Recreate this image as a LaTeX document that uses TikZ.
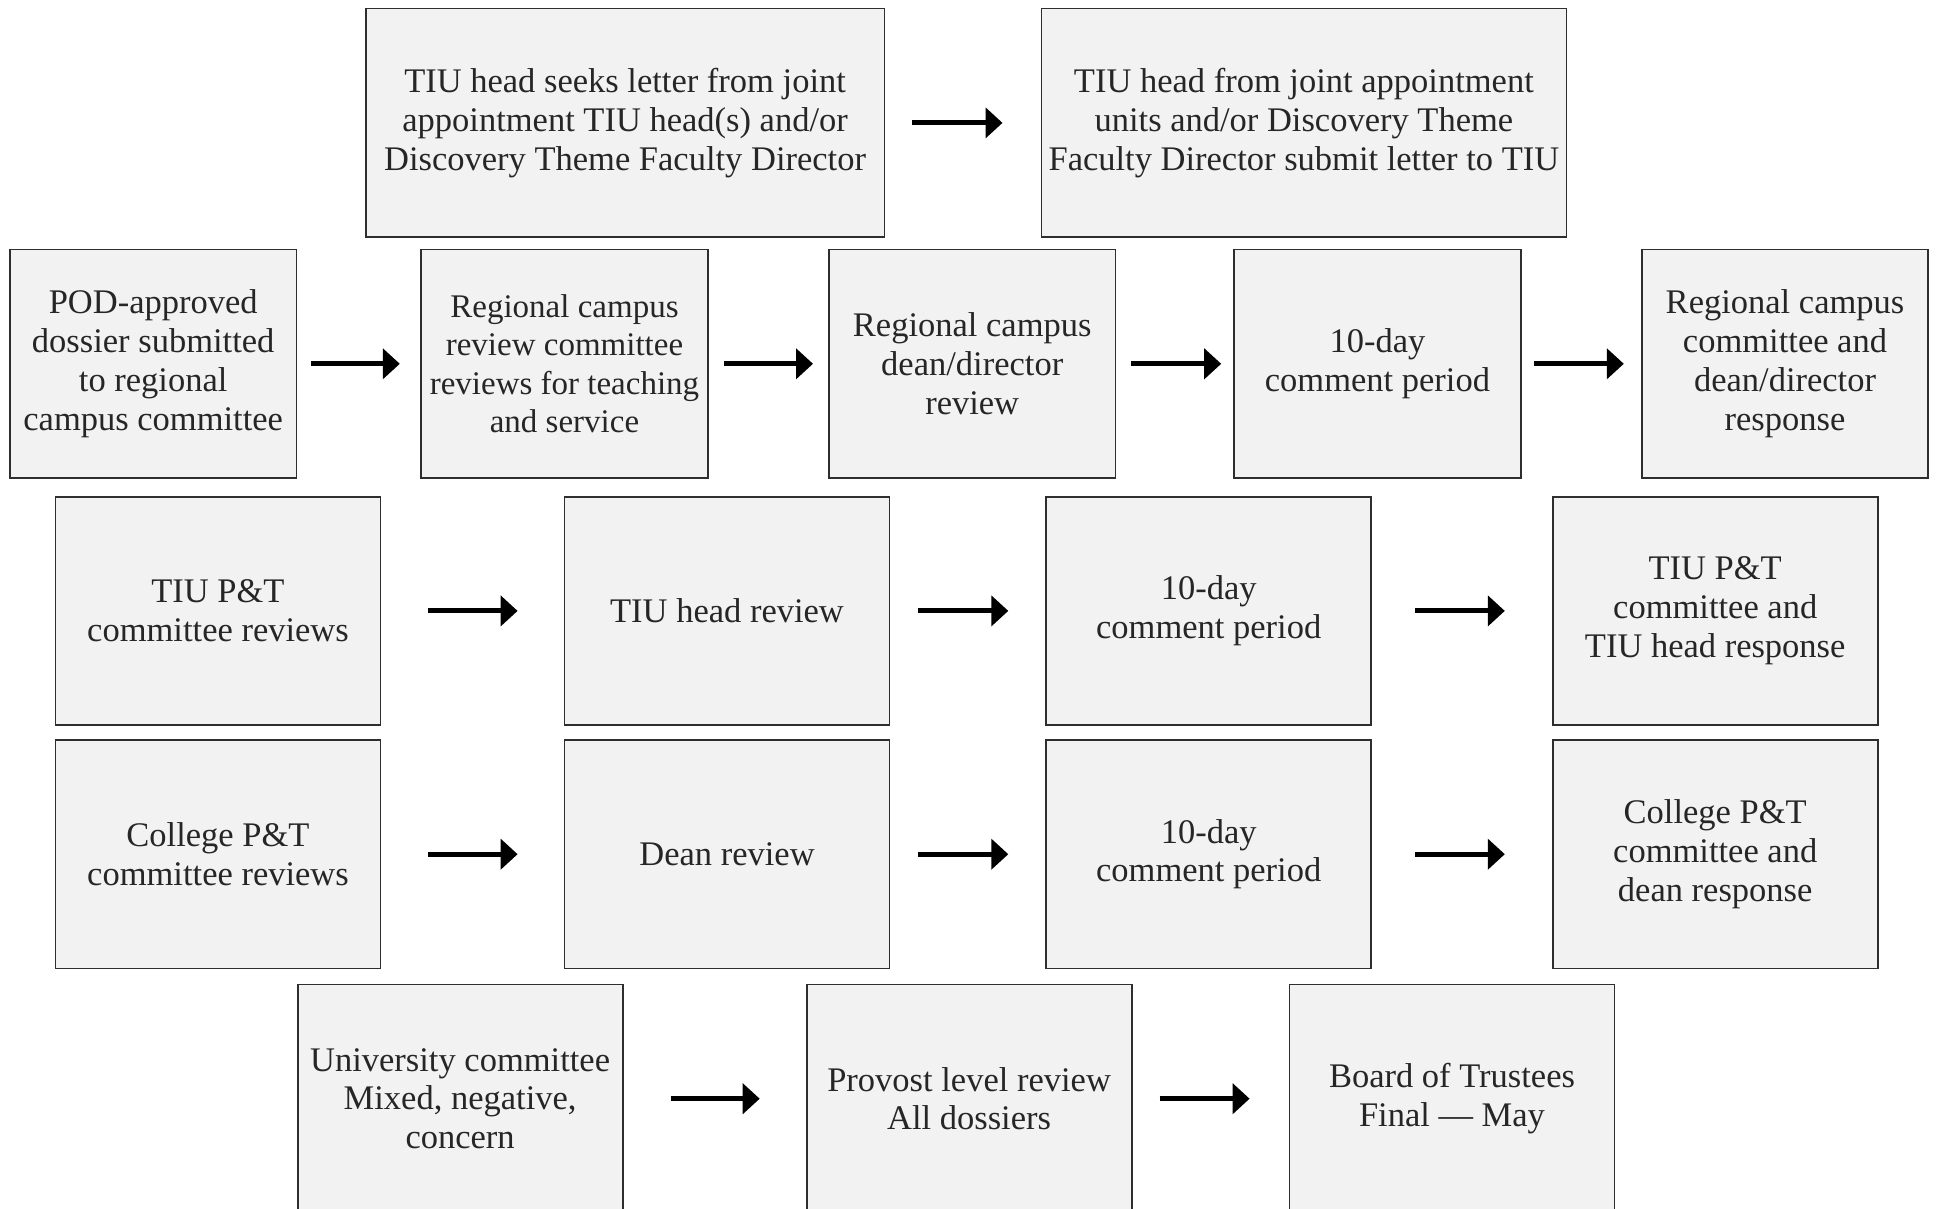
\documentclass[tikz,border=0pt]{standalone}
\usepackage{fontspec}
\setmainfont{Liberation Serif}
\usetikzlibrary{arrows.meta}
\definecolor{boxfill}{HTML}{F2F2F2}
\definecolor{boxline}{HTML}{2E2E2E}
\definecolor{txt}{HTML}{262626}
\tikzset{
  stepbox/.style={draw=boxline, line width=1.8pt, fill=boxfill, text=txt,
    align=center, inner sep=2pt,
    font=\fontsize{34.5}{38.8}\selectfont},
  wbox/.style={stepbox, minimum width=286.6pt, minimum height=228.6pt},
  mbox/.style={stepbox, minimum width=325pt, minimum height=228.6pt},
  flow/.style={line width=5pt, black, -{Triangle[length=17pt,width=30pt]}}
}
\begin{document}
\begin{tikzpicture}[x=1pt,y=-1pt]
\useasboundingbox (0,0) rectangle (1937,1209);
% row 1
\node[stepbox, minimum width=518.8pt, minimum height=228.6pt] (a1) at (625.1,122.9)
  {TIU head seeks letter from joint\\appointment TIU head(s) and/or\\Discovery Theme Faculty Director};
\node[stepbox, minimum width=525pt, minimum height=228.6pt] (a2) at (1303.9,122.9)
  {TIU head from joint appointment\\units and/or Discovery Theme\\Faculty Director submit letter to TIU};
% row 2
\node[wbox] (b1) at (153.2,363.8) {POD-approved\\dossier submitted\\to regional\\campus committee};
\node[wbox, font=\fontsize{33}{38.3}\selectfont] (b2) at (564.5,363.8) {Regional campus\\review committee\\reviews for teaching\\and service};
\node[wbox] (b3) at (972.2,363.8) {Regional campus\\dean/director\\review};
\node[wbox] (b4) at (1377.4,363.8) {10-day\\comment period};
\node[wbox] (b5) at (1785,363.8) {Regional campus\\committee and\\dean/director\\response};
% row 3
\node[mbox] (c1) at (218,610.9) {TIU P\&T\\committee reviews};
\node[mbox] (c2) at (727,610.9) {TIU head review};
\node[mbox] (c3) at (1208.7,610.9) {10-day\\comment period};
\node[mbox] (c4) at (1715.2,610.9) {TIU P\&T\\committee and\\TIU head response};
% row 4
\node[mbox] (d1) at (218,854.2) {College P\&T\\committee reviews};
\node[mbox] (d2) at (727,854.2) {Dean review};
\node[mbox] (d3) at (1208.7,854.2) {10-day\\comment period};
\node[mbox] (d4) at (1715.2,854.2) {College P\&T\\committee and\\dean response};
% row 5
\node[mbox] (e1) at (460.1,1098.7) {University committee\\Mixed, negative,\\concern};
\node[mbox] (e2) at (969.1,1098.7) {Provost level review\\All dossiers};
\node[mbox] (e3) at (1452,1098.7) {Board of Trustees\\Final — May};
% arrows
\draw[flow, shorten <=27pt, shorten >=38pt] (a1) -- (a2);
\draw[flow, shorten <=13.5pt, shorten >=20.5pt] (b1) -- (b2);
\draw[flow, shorten <=15pt, shorten >=15pt] (b2) -- (b3);
\draw[flow, shorten <=15pt, shorten >=12pt] (b3) -- (b4);
\draw[flow, shorten <=12pt, shorten >=17pt] (b4) -- (b5);
\draw[flow, shorten <=47pt, shorten >=46pt] (c1) -- (c2);
\draw[flow, shorten <=28pt, shorten >=37pt] (c2) -- (c3);
\draw[flow, shorten <=43pt, shorten >=47pt] (c3) -- (c4);
\draw[flow, shorten <=47pt, shorten >=46pt] (d1) -- (d2);
\draw[flow, shorten <=28pt, shorten >=37pt] (d2) -- (d3);
\draw[flow, shorten <=43pt, shorten >=47pt] (d3) -- (d4);
\draw[flow, shorten <=47pt, shorten >=46pt] (e1) -- (e2);
\draw[flow, shorten <=27pt, shorten >=39pt] (e2) -- (e3);
\end{tikzpicture}
\end{document}
